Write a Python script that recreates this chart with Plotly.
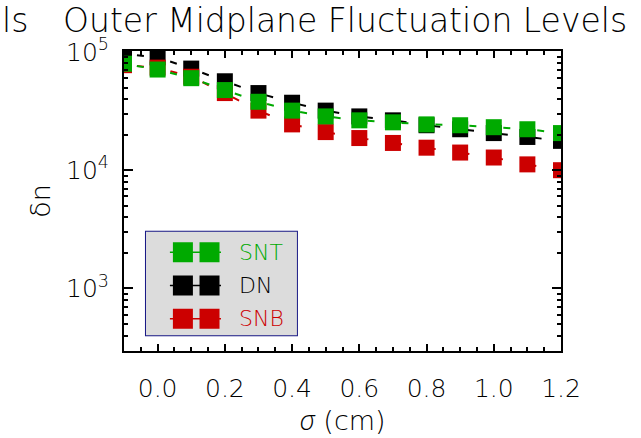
import plotly.graph_objects as go

# ---------------- data ----------------
sigma = [-0.1, 0.0, 0.1, 0.2, 0.3, 0.4, 0.5, 0.6, 0.7, 0.8, 0.9, 1.0, 1.1, 1.2]
snt = [79500, 71000, 60000, 47600, 37900, 31900, 28500, 26400, 25400, 24400, 24000, 23100, 22200, 20600]
dn = [96000, 90000, 72300, 56500, 44900, 37200, 31900, 28500, 26400, 24000, 22200, 20600, 19100, 17700]
snb = [77300, 73700, 61700, 44900, 31900, 24400, 21000, 18700, 17000, 15500, 14100, 12800, 11200, 10000]

series_names = ["SNT", "DN", "SNB"]
series_values = [snt, dn, snb]
series_colors = ["#00aa00", "#000000", "#cc0000"]
draw_order = [1, 2, 0]  # DN, SNB, SNT (SNT on top)

x_tickvals = [0.0, 0.2, 0.4, 0.6, 0.8, 1.0, 1.2]
x_ticktext = ["0.0", "0.2", "0.4", "0.6", "0.8", "1.0", "1.2"]
y_tickvals = [1e3, 1e4, 1e5]
y_ticktext = ["10<sup>3</sup>", "10<sup>4</sup>", "10<sup>5</sup>"]
y_minor = [m * 10 ** e for e in (2, 3, 4) for m in range(2, 10)]

title_text = "Outer Midplane Fluctuation Levels"
left_fragment = "ls"
x_title = "<span style=\"font-family:'Open Sans';font-weight:300\"><i>σ</i></span> (cm)"
y_title = "δn"

FONT = "DejaVu Sans"
W = 300

fig = go.Figure()

for i in draw_order:
    fig.add_trace(go.Scatter(
        x=sigma, y=series_values[i], mode="lines+markers",
        line=dict(color=series_colors[i], width=2, dash="0px,13px,7px,14px"),
        marker=dict(symbol="square", size=16, color=series_colors[i],
                    line=dict(width=0)),
        showlegend=False, xaxis="x", yaxis="y", name=series_names[i],
    ))

# custom legend box (two squares per entry, like the original)
fig.add_trace(go.Scatter(
    x=[0, 1, 1, 0, 0], y=[0, 0, 1, 1, 0], mode="lines", fill="toself",
    fillcolor="#dcdcdc", line=dict(color="#1a1a86", width=2),
    xaxis="x2", yaxis="y2", showlegend=False, hoverinfo="skip", cliponaxis=False,
))
legend_rows = [0.796, 0.481, 0.167]
for k, (name, col) in enumerate(zip(series_names, series_colors)):
    fig.add_trace(go.Scatter(
        x=[0.163, 0.497], y=[legend_rows[k]] * 2, mode="lines",
        line=dict(color=col, width=1.5),
        xaxis="x2", yaxis="y2", showlegend=False, hoverinfo="skip",
    ))
    fig.add_trace(go.Scatter(
        x=[0.248, 0.422], y=[legend_rows[k]] * 2, mode="markers",
        marker=dict(symbol="square", size=20, color=col, opacity=1, line=dict(width=0)),
        xaxis="x2", yaxis="y2", showlegend=False, hoverinfo="skip",
    ))
    fig.add_annotation(x=0.601, y=legend_rows[k], xref="x2", yref="y2",
                       text=name, showarrow=False, xanchor="left", yanchor="middle",
                       font=dict(family=FONT, size=22, color=col, weight=W))

axis_common = dict(showline=True, linecolor="black", linewidth=2, mirror="ticks",
                   ticks="inside", tickcolor="black", showgrid=False, zeroline=False,
                   tickfont=dict(family=FONT, size=25, color="black", weight=W))

fig.update_layout(
    width=641, height=438,
    margin=dict(l=124, r=80, t=51, b=80),
    paper_bgcolor="white", plot_bgcolor="white",
    showlegend=False,
    xaxis=dict(range=[-0.1, 1.2], tickmode="array", tickvals=x_tickvals, ticktext=x_ticktext,
               ticklen=7, tickwidth=1.5, ticklabelstandoff=14,
               minor=dict(tickmode="linear", tick0=0, dtick=0.05, ticks="inside",
                          ticklen=4, tickwidth=1.5, tickcolor="black"),
               title=dict(text=x_title, font=dict(family=FONT, size=27, color="black", weight=W),
                          standoff=4),
               **axis_common),
    yaxis=dict(type="log", range=[2.471, 5.008], tickmode="array", tickvals=y_tickvals,
               ticktext=y_ticktext, ticklen=9, tickwidth=1.5, ticklabelstandoff=8,
               minor=dict(tickmode="array", tickvals=y_minor, ticks="inside",
                          ticklen=4, tickwidth=1.5, tickcolor="black"),
               title=dict(text=y_title, font=dict(family=FONT, size=27, color="black", weight=W),
                          standoff=8),
               **axis_common),
    xaxis2=dict(domain=[0.048, 0.398], range=[0, 1], visible=False, anchor="y2", fixedrange=True),
    yaxis2=dict(domain=[0.0489, 0.4007], range=[0, 1], visible=False, anchor="x2", fixedrange=True),
)

fig.add_annotation(x=0.5046, y=1.10, xref="paper", yref="paper", text=title_text,
                   showarrow=False, xanchor="center", yanchor="middle",
                   font=dict(family=FONT, size=33, color="black", weight=W))
fig.add_annotation(x=-0.2838, y=1.10, xref="paper", yref="paper", text=left_fragment,
                   showarrow=False, xanchor="left", yanchor="middle",
                   font=dict(family=FONT, size=33, color="black", weight=W))

fig.write_html("out.html")
